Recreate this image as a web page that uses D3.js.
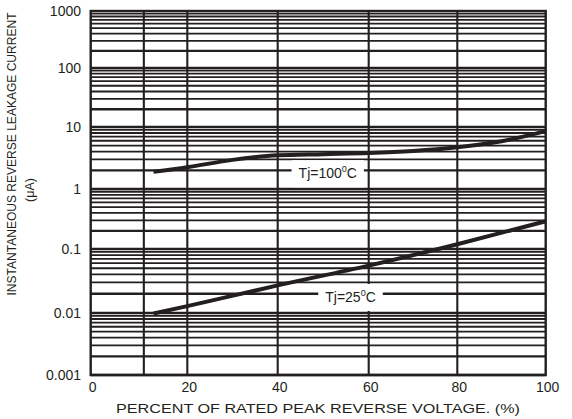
<!DOCTYPE html>
<html>
<head>
<meta charset="UTF-8">
<title>Reverse leakage current</title>
<script src="https://d3js.org/d3.v7.min.js"></script>
<style>
  body { margin: 0; background: #ffffff; }
  svg text { font-family: "Liberation Sans", Arial, sans-serif; fill: #231f20; }
</style>
</head>
<body>
<svg id="mainsvg" width="572" height="419"></svg>
<script>
// data
const xTicks = [0, 20, 40, 60, 80, 100];
const xGrid = [11, 20, 40, 60, 80];
const yTicks = [0.001, 0.01, 0.1, 1, 10, 100, 1000];
const yTickLabels = ['0.001', '0.01', '0.1', '1', '10', '100', '1000'];

const pct100 = [13, 20, 30, 40, 50, 60, 70, 80, 90, 100];
const cur100 = [1.9, 2.25, 2.95, 3.5, 3.65, 3.8, 4.1, 4.7, 5.9, 8.6];
const pct25 = [13, 20, 40, 60, 80, 100];
const cur25 = [0.0098, 0.0128, 0.027, 0.055, 0.12, 0.29];

const labelText = ['Tj=100', 'Tj=25'];
const labelX = [51, 56];
const labelY = [1.8, 0.0178];

const svg = d3.select('#mainsvg');
const ink = '#231f20';

// scanned datasheet axes are slightly uneven, so use piecewise scales
const xScale = d3.scaleLinear()
    .domain(xTicks)
    .range([90.7, 187.3, 277.7, 368.7, 457.3, 545.7]);
const yScale = d3.scaleLog()
    .domain(yTicks)
    .range([375, 313, 249, 189, 127, 68, 11]);

const g = svg.append('g');

// horizontal grid: 1..9 in every decade
let hLines = [];
for (let d = 0; d < yTicks.length - 1; d++) {
    for (let k = 1; k <= 9; k++) hLines.push(yTicks[d] * k);
}
g.selectAll('.hgrid')
    .data(hLines)
    .join('line')
    .attr('class', 'hgrid')
    .attr('x1', xScale(0)).attr('x2', xScale(100))
    .attr('y1', d => yScale(d)).attr('y2', d => yScale(d))
    .attr('stroke', ink)
    .attr('stroke-width', (d, i) => (i % 9 === 0 || i % 9 === 1) ? 2.3 : 1.8);

g.selectAll('.vgrid')
    .data(xGrid)
    .join('line')
    .attr('class', 'vgrid')
    .attr('x1', d => xScale(d)).attr('x2', d => xScale(d))
    .attr('y1', yScale(1000)).attr('y2', yScale(0.001))
    .attr('stroke', ink)
    .attr('stroke-width', 2.1);

// curves
const line = d3.line()
    .x(d => xScale(d[0]))
    .y(d => yScale(d[1]))
    .curve(d3.curveMonotoneX);

const series = [
    d3.zip(pct100, cur100),
    d3.zip(pct25, cur25)
];
g.selectAll('.curve')
    .data(series)
    .join('path')
    .attr('class', 'curve')
    .attr('d', line)
    .attr('fill', 'none')
    .attr('stroke', ink)
    .attr('stroke-width', 4);

// labels with white boxes
labelText.forEach((t, i) => {
    const cx = xScale(labelX[i]);
    const cy = yScale(labelY[i]);
    const lg = g.append('g');
    const txt = lg.append('text')
        .attr('x', cx).attr('y', cy + 5)
        .attr('text-anchor', 'middle')
        .attr('font-size', 14);
    txt.append('tspan').text(t);
    txt.append('tspan').attr('dy', -6).attr('font-size', 9).text('0');
    txt.append('tspan').attr('dy', 6).text('C');
    const bb = txt.node().getBBox();
    lg.insert('rect', 'text')
        .attr('x', bb.x - 7).attr('y', cy - 13)
        .attr('width', bb.width + 14).attr('height', 27)
        .attr('fill', '#ffffff');
});

// frame
g.append('rect')
    .attr('x', xScale(0)).attr('y', yScale(1000))
    .attr('width', xScale(100) - xScale(0))
    .attr('height', yScale(0.001) - yScale(1000))
    .attr('fill', 'none')
    .attr('stroke', ink)
    .attr('stroke-width', 2.4);

// tick labels
g.selectAll('.ylab')
    .data(yTicks)
    .join('text')
    .attr('class', 'ylab')
    .attr('x', 81)
    .attr('y', d => yScale(d) + 5)
    .attr('text-anchor', 'end')
    .attr('font-size', 14)
    .text((d, i) => yTickLabels[i]);

g.selectAll('.xlab')
    .data(xTicks)
    .join('text')
    .attr('class', 'xlab')
    .attr('x', d => xScale(d) + 2)
    .attr('y', 392)
    .attr('text-anchor', 'middle')
    .attr('font-size', 14)
    .text(d => d);

// axis titles
svg.append('text')
    .attr('x', 318).attr('y', 413)
    .attr('text-anchor', 'middle')
    .attr('font-size', 13.5)
    .attr('textLength', 404)
    .attr('lengthAdjust', 'spacingAndGlyphs')
    .text('PERCENT OF RATED PEAK REVERSE VOLTAGE. (%)');

svg.append('text')
    .attr('transform', 'translate(16,154) rotate(-90)')
    .attr('text-anchor', 'middle')
    .attr('font-size', 12.5)
    .attr('textLength', 283)
    .attr('lengthAdjust', 'spacingAndGlyphs')
    .text('INSTANTANEOUS REVERSE LEAKAGE CURRENT');
svg.append('text')
    .attr('transform', 'translate(34,190) rotate(-90)')
    .attr('text-anchor', 'middle')
    .attr('font-size', 12.5)
    .text('(\u03bcA)');
</script>
</body>
</html>
